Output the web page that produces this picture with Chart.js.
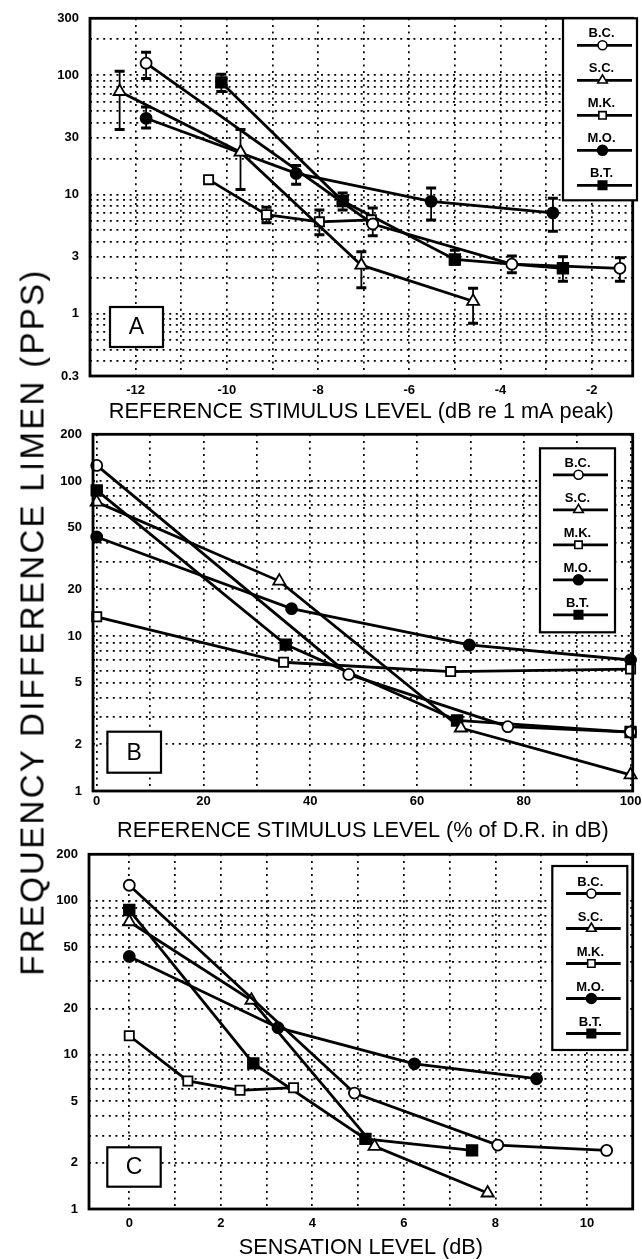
<!DOCTYPE html>
<html><head><meta charset="utf-8">
<script src="https://cdn.jsdelivr.net/npm/chart.js@4.4.1/dist/chart.umd.min.js"></script>
<style>
html,body{margin:0;padding:0;background:#fff;}
#wrap{position:relative;width:642px;height:1259px;overflow:hidden;background:#fff;}
canvas{position:absolute;left:0;}
#ytitle{position:absolute;left:31.5px;top:622px;transform:translate(-50%,-50%) rotate(-90deg);white-space:nowrap;font-family:"Liberation Sans",Arial,sans-serif;font-size:33px;line-height:33px;letter-spacing:2.3px;color:#000;}
</style></head><body>
<div id="wrap">
<canvas id="chartA" width="642" height="425" style="top:0px;width:642px;height:425px"></canvas>
<canvas id="chartB" width="642" height="420" style="top:425px;width:642px;height:420px"></canvas>
<canvas id="chartC" width="642" height="414" style="top:845px;width:642px;height:414px"></canvas>
<div id="ytitle">FREQUENCY DIFFERENCE LIMEN (PPS)</div>
</div>
<script>
// ---------- data ----------
const subjects = ['B.C.', 'S.C.', 'M.K.', 'M.O.', 'B.T.'];
// frequency difference limen (pps) per subject, same four measurements in all panels
const fdlBC = [126, 5.65, 2.6, 2.4];
const fdlSC = [73, 22.6, 2.55, 1.27];
const fdlMK = [13.3, 6.77, 5.89, 6.12];
const fdlMO = [43.5, 15.0, 8.75, 7.0];
const fdlBT = [87, 8.8, 2.85, 2.4];
// Panel A: reference stimulus level (dB re 1 mA peak)
const levA_BC = [-11.77, -6.8, -3.75, -1.38];
const levA_SC = [-12.35, -9.7, -7.05, -4.6];
const levA_MK = [-10.4, -9.13, -7.97, -6.83];
const levA_MO = [-11.77, -8.48, -5.52, -2.85];
const levA_BT = [-10.12, -7.46, -5.0, -2.63];
// Panel A error bars [low, high]
const errA_BC = [[94, 156], [4.5, 7.7], [2.2, 3.05], [1.87, 2.95]];
const errA_SC = [[35, 108], [11, 35], [1.65, 3.3], [0.83, 1.63]];
const errA_MK = [null, [5.8, 7.8], [4.6, 7.4], null];
const errA_MO = [[36, 54], [12.2, 17.5], [6.1, 11.3], [4.9, 9.3]];
const errA_BT = [[73, 102], [7.4, 10.3], [2.6, 3.4], [1.87, 3.0]];
// Panel B: reference stimulus level (% of D.R. in dB)
const levB_BC = [0, 47.2, 77, 100];
const levB_SC = [0, 34.2, 68.2, 100];
const levB_MK = [0, 35, 66.3, 100];
const levB_MO = [0, 36.5, 69.8, 100];
const levB_BT = [0, 35.4, 67.5, 100];
// Panel C: sensation level (dB)
const levC_BC = [0, 4.92, 8.05, 10.43];
const levC_SC = [0, 2.67, 5.36, 7.83];
const levC_MK = [0, 1.28, 2.42, 3.59];
const levC_MO = [0, 3.25, 6.23, 8.9];
const levC_BT = [0, 2.71, 5.16, 7.49];
// tick / grid values
const yGridA = [0.3,0.4,0.5,0.6,0.7,0.8,0.9,1,2,3,4,5,6,7,8,9,10,20,30,40,50,60,70,80,90,100,200,300];
const yLabelsA = [0.3, 1, 3, 10, 30, 100, 300];
const yGridBC = [1,2,3,4,5,6,7,8,9,10,20,30,40,50,60,70,80,90,100,200];
const yLabelsBC = [1, 2, 5, 10, 20, 50, 100, 200];
const xGridA = [-13,-12,-11,-10,-9,-8,-7,-6,-5,-4,-3,-2];
const xLabelsA = [-12, -10, -8, -6, -4, -2];
const xGridB = [0,10,20,30,40,50,60,70,80,90,100];
const xLabelsB = [0, 20, 40, 60, 80, 100];
const xGridC = [0,1,2,3,4,5,6,7,8,9,10];
const xLabelsC = [0, 2, 4, 6, 8, 10];

// ---------- styles ----------
const FAM = '"Liberation Sans", Arial, Helvetica, sans-serif';
const markerStyles = ['circle', 'triangle', 'rect', 'circle', 'rect'];
const markerFills = ['#fff', '#fff', '#fff', '#000', '#000'];
const markerRadii = [5.5, 7, 6.5, 5.5, 7.5];
const legendRadii = [4.5, 5.5, 5.2, 5, 6];

const errorBars = {
  id: 'errorBars',
  beforeDatasetsDraw(chart) {
    const {ctx} = chart; const xs = chart.scales.x, ys = chart.scales.y;
    chart.data.datasets.forEach(ds => {
      if (!ds.errors) return;
      ds.data.forEach((p, j) => {
        const e = ds.errors[j]; if (!e) return;
        const px = xs.getPixelForValue(p.x);
        const y1 = ys.getPixelForValue(e[0]), y2 = ys.getPixelForValue(e[1]);
        ctx.save(); ctx.strokeStyle = '#000';
        ctx.lineWidth = 1.8; ctx.beginPath(); ctx.moveTo(px, y1); ctx.lineTo(px, y2); ctx.stroke();
        ctx.lineWidth = 3; ctx.beginPath();
        ctx.moveTo(px - 5, y1); ctx.lineTo(px + 5, y1);
        ctx.moveTo(px - 5, y2); ctx.lineTo(px + 5, y2); ctx.stroke();
        ctx.restore();
      });
    });
  }
};

const frame = {
  id: 'frame',
  afterDatasetsDraw(chart) {
    const {ctx, chartArea: a} = chart;
    ctx.save(); ctx.strokeStyle = '#000'; ctx.lineWidth = 2.8;
    ctx.strokeRect(a.left, a.top, a.right - a.left, a.bottom - a.top);
    ctx.restore();
  }
};

const insetLegend = {
  id: 'insetLegend',
  afterDatasetsDraw(chart, args, o) {
    if (!o || o.x === undefined) return;
    const {ctx} = chart;
    ctx.save();
    ctx.fillStyle = '#fff'; ctx.fillRect(o.x, o.y, o.w, o.h);
    ctx.strokeStyle = '#000'; ctx.lineWidth = 2.2; ctx.strokeRect(o.x, o.y, o.w, o.h);
    chart.data.datasets.forEach((ds, i) => {
      const ty = o.y + o.first + o.step * i;
      const ly = ty + o.lineDy;
      const cx = o.x + (o.l1 + o.l2) / 2;
      ctx.fillStyle = '#000';
      ctx.font = 'bold 13px ' + FAM;
      ctx.textAlign = 'center'; ctx.textBaseline = 'middle';
      ctx.fillText(ds.label, cx - 3, ty);
      ctx.strokeStyle = '#000'; ctx.lineWidth = 2.8;
      ctx.beginPath(); ctx.moveTo(o.x + o.l1, ly); ctx.lineTo(o.x + o.l2, ly); ctx.stroke();
      ctx.fillStyle = markerFills[i]; ctx.lineWidth = 1.6;
      Chart.helpers.drawPoint(ctx, {pointStyle: markerStyles[i], radius: legendRadii[i], borderWidth: 1.6, rotation: 0}, cx - 2, ly);
    });
    ctx.restore();
  }
};

const panelLetter = {
  id: 'panelLetter',
  afterDatasetsDraw(chart, args, o) {
    if (!o || o.x === undefined) return;
    const {ctx} = chart;
    ctx.save();
    ctx.fillStyle = '#fff'; ctx.fillRect(o.x, o.y, o.w, o.h);
    ctx.strokeStyle = '#000'; ctx.lineWidth = 2.2; ctx.strokeRect(o.x, o.y, o.w, o.h);
    ctx.fillStyle = '#000'; ctx.font = '23px ' + FAM;
    ctx.textAlign = 'center'; ctx.textBaseline = 'middle';
    ctx.fillText(o.text, o.x + o.w / 2, o.y + o.h / 2 + 1);
    ctx.restore();
  }
};

function buildChart(id, c) {
  const datasets = subjects.map((name, i) => ({
    label: name,
    data: c.xs[i].map((x, j) => ({x: x, y: c.ys[i][j]})),
    errors: c.errs ? c.errs[i] : null,
    borderColor: '#000', borderWidth: 2.8, backgroundColor: markerFills[i],
    pointStyle: markerStyles[i], pointRadius: markerRadii[i], pointBorderWidth: 1.8,
    pointBackgroundColor: markerFills[i], pointBorderColor: '#000',
    showLine: true, tension: 0, clip: false
  }));
  const tickFont = {family: FAM, size: 13, weight: 'bold', lineHeight: 1};
  return new Chart(document.getElementById(id), {
    type: 'scatter',
    data: {datasets},
    options: {
      responsive: false, animation: false, events: [],
      layout: {padding: c.pad},
      plugins: {legend: {display: false}, tooltip: {enabled: false}, insetLegend: c.legend, panelLetter: c.letter},
      scales: {
        x: {
          type: 'linear', min: c.xMin, max: c.xMax,
          afterBuildTicks: a => { a.ticks = c.xGrid.map(v => ({value: v})); },
          afterFit: a => { a.height = c.xh; a.paddingLeft = 0; a.paddingRight = 0; },
          ticks: {autoSkip: false, maxRotation: 0, minRotation: 0, padding: c.xTickPad, font: tickFont, color: '#000',
                  callback: v => c.xLabels.includes(v) ? String(v) : ''},
          grid: {color: '#000', lineWidth: 1.7, drawTicks: false},
          border: {display: false, dash: [2, 4.6]},
          title: {display: true, text: c.xTitle, color: '#000', font: {family: FAM, size: 21.7, lineHeight: 1},
                  padding: {top: 0, bottom: c.titlePad}}
        },
        y: {
          type: 'logarithmic', min: c.yMin, max: c.yMax,
          afterBuildTicks: a => { a.ticks = c.yGrid.map(v => ({value: v})); },
          afterFit: a => { a.width = c.yw; a.paddingTop = 0; a.paddingBottom = 0; },
          ticks: {autoSkip: false, padding: 11, font: tickFont, color: '#000',
                  callback: v => c.yLabels.includes(v) ? String(v) : ''},
          grid: {color: '#000', lineWidth: 1.7, drawTicks: false},
          border: {display: false, dash: [2, 4.6]}
        }
      }
    },
    plugins: [errorBars, frame, insetLegend, panelLetter]
  });
}

buildChart('chartA', {
  xs: [levA_BC, levA_SC, levA_MK, levA_MO, levA_BT],
  ys: [fdlBC, fdlSC, fdlMK, fdlMO, fdlBT],
  errs: [errA_BC, errA_SC, errA_MK, errA_MO, errA_BT],
  xMin: -13, xMax: -1.1, xGrid: xGridA, xLabels: xLabelsA,
  yMin: 0.3, yMax: 300, yGrid: yGridA, yLabels: yLabelsA,
  pad: {top: 18.3, right: 5, bottom: 0, left: 0}, yw: 90, xh: 49, xTickPad: 7.5, titlePad: 2.5,
  xTitle: 'REFERENCE STIMULUS LEVEL (dB re 1 mA peak)',
  legend: {x: 563, y: 18.3, w: 74, h: 182, first: 15, step: 35, lineDy: 12, l1: 14, l2: 69},
  letter: {x: 110, y: 307, w: 53, h: 40, text: 'A'}
});
buildChart('chartB', {
  xs: [levB_BC, levB_SC, levB_MK, levB_MO, levB_BT],
  ys: [fdlBC, fdlSC, fdlMK, fdlMO, fdlBT],
  errs: null,
  xMin: -0.7, xMax: 100.4, xGrid: xGridB, xLabels: xLabelsB,
  yMin: 1, yMax: 200, yGrid: yGridBC, yLabels: yLabelsBC,
  pad: {top: 9, right: 7, bottom: 0, left: 0}, yw: 93, xh: 54, xTickPad: 4.2, titlePad: 2.8,
  xTitle: 'REFERENCE STIMULUS LEVEL (% of D.R. in dB)',
  legend: {x: 540, y: 23.3, w: 75, h: 184, first: 15.5, step: 35, lineDy: 11, l1: 13, l2: 68},
  letter: {x: 107.4, y: 306.7, w: 53.6, h: 41, text: 'B'}
});
buildChart('chartC', {
  xs: [levC_BC, levC_SC, levC_MK, levC_MO, levC_BT],
  ys: [fdlBC, fdlSC, fdlMK, fdlMO, fdlBT],
  errs: null,
  xMin: -0.88, xMax: 11.0, xGrid: xGridC, xLabels: xLabelsC,
  yMin: 1, yMax: 200, yGrid: yGridBC, yLabels: yLabelsBC,
  pad: {top: 6, right: 5, bottom: 0, left: 0}, yw: 89, xh: 50, xTickPad: 7.5, titlePad: 0.5,
  xTitle: 'SENSATION LEVEL (dB)',
  legend: {x: 552.3, y: 21, w: 75, h: 184, first: 16.5, step: 35, lineDy: 11, l1: 13.7, l2: 68.4},
  letter: {x: 107.3, y: 302.3, w: 53.4, h: 39.4, text: 'C'}
});
</script>
</body></html>
